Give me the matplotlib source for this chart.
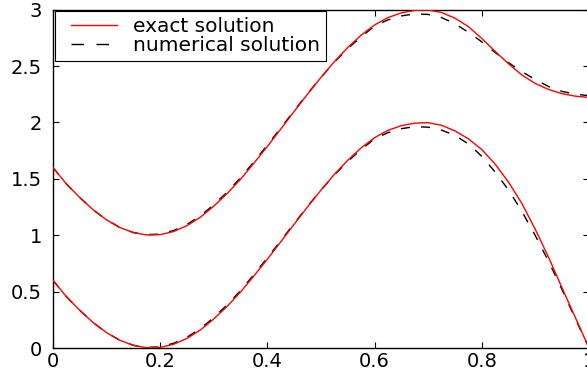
import numpy as np
import matplotlib
matplotlib.use("Agg")
import matplotlib.pyplot as plt
from matplotlib.lines import Line2D
from matplotlib.legend_handler import HandlerLine2D

plt.rcParams['font.family'] = ['DejaVu Sans']

# x grid of the read-off points
x = np.linspace(0, 1, 41)

# exact solution (red), lower and upper curve
exact_low = [0.600, 0.455, 0.334, 0.225, 0.136, 0.068, 0.023, 0.002, 0.005, 0.033,
             0.085, 0.160, 0.258, 0.370, 0.497, 0.640, 0.788, 0.942, 1.098, 1.252,
             1.400, 1.540, 1.665, 1.775, 1.865, 1.930, 1.972, 1.994, 1.998, 1.975,
             1.925, 1.855, 1.760, 1.630, 1.470, 1.280, 1.050, 0.800, 0.530, 0.265,
             0.000]
exact_up = [1.600, 1.455, 1.334, 1.225, 1.136, 1.068, 1.023, 1.002, 1.005, 1.033,
            1.085, 1.160, 1.258, 1.370, 1.497, 1.640, 1.788, 1.942, 2.098, 2.252,
            2.400, 2.540, 2.665, 2.775, 2.865, 2.930, 2.972, 2.994, 2.998, 2.975,
            2.925, 2.850, 2.745, 2.630, 2.520, 2.420, 2.345, 2.292, 2.255, 2.233,
            2.222]

# numerical solution (black dashed)
num_low = [0.600, 0.455, 0.334, 0.225, 0.136, 0.068, 0.024, 0.005, 0.010, 0.042,
           0.096, 0.172, 0.270, 0.383, 0.510, 0.652, 0.800, 0.952, 1.105, 1.256,
           1.400, 1.535, 1.655, 1.760, 1.855, 1.910, 1.945, 1.963, 1.958, 1.932,
           1.885, 1.810, 1.700, 1.560, 1.400, 1.210, 0.995, 0.765, 0.515, 0.255,
           0.000]
num_up = [1.600, 1.455, 1.334, 1.225, 1.136, 1.068, 1.024, 1.005, 1.010, 1.042,
          1.096, 1.172, 1.270, 1.383, 1.510, 1.652, 1.800, 1.952, 2.105, 2.256,
          2.400, 2.535, 2.655, 2.760, 2.855, 2.910, 2.945, 2.963, 2.958, 2.930,
          2.875, 2.800, 2.715, 2.620, 2.530, 2.450, 2.380, 2.318, 2.275, 2.250,
          2.238]

xticks = [0, 0.2, 0.4, 0.6, 0.8, 1]
xticklabels = ['0', '0.2', '0.4', '0.6', '0.8', '1']
yticks = [0, 0.5, 1, 1.5, 2, 2.5, 3]
yticklabels = ['0', '0.5', '1', '1.5', '2', '2.5', '3']
labels = ['exact solution', 'numerical solution']

fig = plt.figure(figsize=(5.87, 3.73), dpi=100)
ax = fig.add_axes([53/587, 25/373, 536/587, 338.3/373])

dash = dict(color='black', linewidth=1.0, dashes=(6.5, 8), zorder=2)
ax.plot(x, num_low, **dash)
ax.plot(x, num_up, **dash)
ax.plot(x, exact_low, color='red', linewidth=1.0, zorder=3)
ax.plot(x, exact_up, color='red', linewidth=1.0, zorder=3)

ax.set_xlim(0, 1)
ax.set_ylim(0, 3)
ax.set_xticks(xticks)
ax.set_xticklabels(xticklabels)
ax.set_yticks(yticks)
ax.set_yticklabels(yticklabels)
ax.tick_params(direction='in', length=4.5, width=0.8, labelsize=14,
               top=True, right=True)
ax.tick_params(axis='x', pad=3)
ax.tick_params(axis='y', pad=8)
for s in ax.spines.values():
    s.set_linewidth(1.0)
# right edge of the box falls just outside the picture
ax.spines['right'].set_visible(False)

# legend proxies (longer dashes, as in the reference)
h_ex = Line2D([], [], color='red', linewidth=1.0)
h_num = Line2D([], [], color='black', linewidth=1.0, dashes=(9, 9))
hm = {h_ex: HandlerLine2D(xpad=0.5), h_num: HandlerLine2D(xpad=0.5)}
leg = ax.legend([h_ex, h_num], labels, handler_map=hm,
                loc='upper left', bbox_to_anchor=(0.004, 0.997), borderaxespad=0,
                fontsize=14.5, handlelength=2.75, handletextpad=0.8,
                borderpad=0.3, labelspacing=0.0, fancybox=False,
                framealpha=1, edgecolor='black')
leg.get_frame().set_linewidth(0.8)

fig.savefig('out.png', dpi=100)
